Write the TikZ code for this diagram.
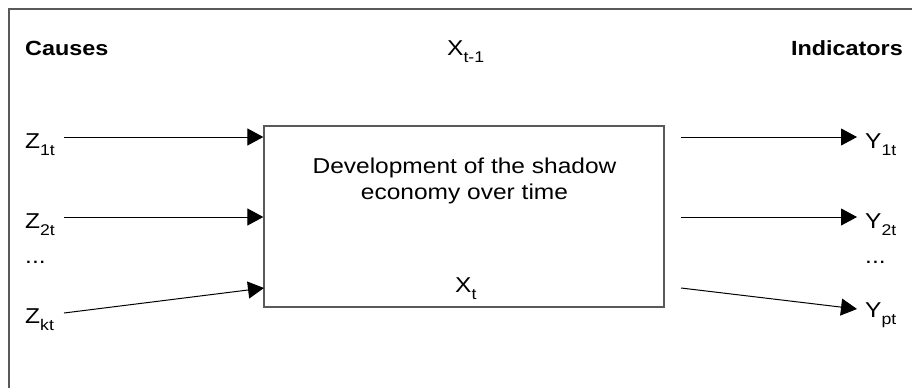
\documentclass[tikz,border=0pt]{standalone}
\usepackage{fontspec}
\setmainfont{Liberation Sans}[FakeStretch=1.14]
\usetikzlibrary{arrows.meta}
\newcommand{\lowsub}[1]{\raisebox{-7.5pt}{\fontsize{15.5}{15.5}\selectfont #1}}
\tikzset{
  txt/.style={inner sep=0pt, font=\fontsize{21.5}{26}\selectfont},
  head/.style={inner sep=0pt, font=\fontsize{20.5}{24}\selectfont\bfseries},
  frameline/.style={draw=black!65, line width=1.3pt},
  boxstyle/.style={draw=black!65, line width=1.3pt, minimum width=400pt, minimum height=181pt, inner sep=0pt},
  arr/.style={draw=black, line width=1pt, -{Triangle[length=16pt,width=17pt]}}
}
\begin{document}
\begin{tikzpicture}[x=1pt,y=-1pt]
\useasboundingbox (0,0) rectangle (912,388);
\draw[frameline] (912,9) -- (9,9) -- (9,388);
% headings
\node[head, anchor=base west] (causes) at (25,55) {Causes};
\node[txt, anchor=base west] (xprev) at (447,55) {X\lowsub{t-1}};
\node[head, anchor=base east] (ind) at (903,55) {Indicators};
% main box
\node[boxstyle] (box) at (464,216.5) {};
\node[txt, align=center, anchor=base] (dev) at (464.5,199) {Development of the shadow\\economy over time};
\node[txt, anchor=base west] (xt) at (455,292) {X\lowsub{t}};
% causes
\node[txt, anchor=base west] (z1) at (25,148) {Z\lowsub{1t}};
\node[txt, anchor=base west] (z2) at (25,228) {Z\lowsub{2t}};
\node[txt, anchor=base west] (zd) at (25,263) {...};
\node[txt, anchor=base west] (zk) at (25,323) {Z\lowsub{kt}};
% indicators
\node[txt, anchor=base west] (y1) at (865,148) {Y\lowsub{1t}};
\node[txt, anchor=base west] (y2) at (865,228) {Y\lowsub{2t}};
\node[txt, anchor=base west] (yd) at (865,263) {...};
\node[txt, anchor=base west] (yp) at (865,317) {Y\lowsub{pt}};
% connector ends
\coordinate (z1s) at (64,137);
\coordinate (z2s) at (64,217);
\coordinate (zks) at (64,313);
\coordinate (bk) at (264,288);
\coordinate (y1s) at (681,137);
\coordinate (y2s) at (681,217);
\coordinate (yps) at (681,288);
\coordinate (y1e) at (857,137);
\coordinate (y2e) at (857,217);
\coordinate (ype) at (857,309);
\draw[arr] (z1s) -- (box.west |- z1s);
\draw[arr] (z2s) -- (box.west |- z2s);
\draw[arr] (zks) -- (bk);
\draw[arr] (y1s) -- (y1e);
\draw[arr] (y2s) -- (y2e);
\draw[arr] (yps) -- (ype);
\end{tikzpicture}
\end{document}
